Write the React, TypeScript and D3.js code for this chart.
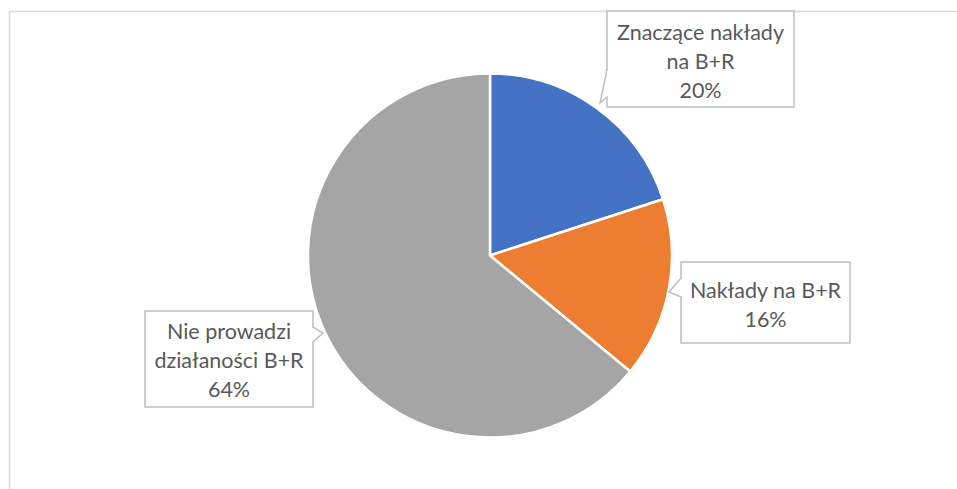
import React from "react";
import * as d3 from "d3";

const categories = ["Znaczące nakłady na B+R", "Nakłady na B+R", "Nie prowadzi działaności B+R"];
const values = [20, 16, 64];
const labelLines = [
  ["Znaczące nakłady", "na B+R", "20%"],
  ["Nakłady na B+R", "16%"],
  ["Nie prowadzi", "działaności B+R", "64%"],
];
const colors = ["#4472C4", "#ED7D31", "#A5A5A5"];

// callout layout: box and tail
const callouts = [
  { x: 607, y: 11, w: 187, h: 96, tail: [[607, 70], [600, 103], [607, 97]], ty: 40 },
  { x: 681, y: 262, w: 169, h: 81, tail: [[681, 278], [669, 292], [681, 297]], ty: 298 },
  { x: 145, y: 311, w: 168, h: 96, tail: [[313, 327], [323, 333], [313, 342]], ty: 339 },
];

const W = 957;
const H = 489;
const cx = 490;
const cy = 255.5;
const R = 182;

export default function App() {
  const pie = d3.pie<number>().sort(null).value((d) => d)(values);
  const arc = d3.arc<d3.PieArcDatum<number>>().innerRadius(0).outerRadius(R);
  const lineH = 29;
  return (
    <svg
      width={W}
      height={H}
      style={{ position: "absolute", left: 0, top: 0, background: "#fff" }}
      fontFamily="Lato, 'Noto Sans', sans-serif"
    >
      <rect x={9.5} y={11.5} width={1000} height={600} fill="#fff" stroke="#D9D9D9" strokeWidth={1.5} />
      <g transform={`translate(${cx},${cy})`}>
        {pie.map((p, i) => (
          <path key={categories[i]} d={arc(p) || ""} fill={colors[i]} stroke="#fff" strokeWidth={2.5} strokeLinejoin="round" />
        ))}
      </g>
      {callouts.map((c, i) => {
        const t = c.tail;
        return (
          <g key={i}>
            <rect x={c.x} y={c.y} width={c.w} height={c.h} fill="#fff" stroke="#BFBFBF" strokeWidth={1.5} />
            <path
              d={`M${t[0][0]},${t[0][1]} L${t[1][0]},${t[1][1]} L${t[2][0]},${t[2][1]}`}
              fill="#fff"
              stroke="#BFBFBF"
              strokeWidth={1.5}
            />
            <line x1={t[0][0] + (i === 2 ? -1 : 1)} y1={t[0][1] + 1} x2={t[2][0] + (i === 2 ? -1 : 1)} y2={t[2][1] - 1} stroke="#fff" strokeWidth={2} />
            {labelLines[i].map((l, j) => (
              <text
                key={j}
                x={c.x + c.w / 2}
                y={c.ty + j * lineH}
                textAnchor="middle"
                fontSize={21.5}
                fill="#595959"
              >
                {l}
              </text>
            ))}
          </g>
        );
      })}
    </svg>
  );
}
